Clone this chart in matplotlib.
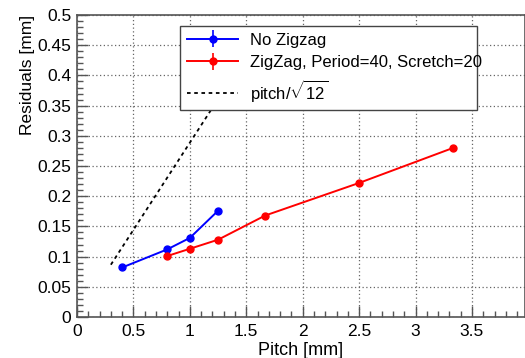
import numpy as np
import matplotlib
matplotlib.use("Agg")
import matplotlib.pyplot as plt
from matplotlib.ticker import MultipleLocator, FuncFormatter

plt.rcParams['font.family'] = ['Liberation Sans', 'DejaVu Sans']
plt.rcParams['mathtext.fontset'] = 'custom'
plt.rcParams['mathtext.rm'] = 'Liberation Sans'

# data
pitch_nozz = [0.4, 0.8, 1.0, 1.25]
res_nozz = [0.082, 0.112, 0.131, 0.176]
err_nozz = [0.002, 0.002, 0.003, 0.003]

pitch_zz = [0.8, 1.0, 1.25, 1.667, 2.5, 3.333]
res_zz = [0.101, 0.113, 0.128, 0.168, 0.222, 0.280]
err_zz = [0.002, 0.002, 0.002, 0.002, 0.002, 0.002]

pitch_ref = [0.3, 1.55]

fig = plt.figure(figsize=(5.25, 3.58), dpi=100)
ax = fig.add_axes([0.1467, 0.1145, 0.8533, 0.8435])

h1 = ax.errorbar(pitch_nozz, res_nozz, yerr=err_nozz, color='#0000ff', marker='o',
                 ms=5, lw=1.4, elinewidth=1.2, capsize=0, label='No Zigzag', zorder=3)
h2 = ax.errorbar(pitch_zz, res_zz, yerr=err_zz, color='#ff0000', marker='o',
                 ms=5, lw=1.4, elinewidth=1.2, capsize=0,
                 label='ZigZag, Period=40, Scretch=20', zorder=3)
ref = np.array(pitch_ref)
h3, = ax.plot(ref, ref / np.sqrt(12), color='black', ls=(0, (2, 2)), lw=1.3,
              label=r'pitch/$\sqrt{12}$', zorder=2)

ax.set_xlim(0, 3.97)
ax.set_ylim(0, 0.5)
ax.xaxis.set_major_locator(MultipleLocator(0.5))
ax.xaxis.set_minor_locator(MultipleLocator(0.1))
ax.yaxis.set_major_locator(MultipleLocator(0.05))
ax.yaxis.set_minor_locator(MultipleLocator(0.01))
ax.xaxis.set_major_formatter(FuncFormatter(lambda v, p: '%g' % round(v, 2)))
ax.yaxis.set_major_formatter(FuncFormatter(lambda v, p: '%g' % round(v, 2)))
ax.tick_params(which='major', direction='in', length=8, width=1, labelsize=12.5,
               color='#555555')
ax.tick_params(axis='x', which='major', pad=5)
ax.tick_params(axis='y', which='major', pad=4)
ax.tick_params(which='minor', direction='in', length=4, width=1, color='#555555')
ax.tick_params(top=False, right=False)
ax.grid(True, which='major', ls=(0, (1, 2)), color='#666666', lw=0.9)
for s in ax.spines.values():
    s.set_color('#555555')
    s.set_linewidth(1.2)

ax.set_xlabel('Pitch [mm]', fontsize=13, labelpad=2)
ax.set_ylabel('Residuals [mm]', fontsize=12.5, loc='top', labelpad=2)

leg = ax.legend([h1, h2, h3], [h1.get_label(), h2.get_label(), h3.get_label()],
                loc='upper left', bbox_to_anchor=(0.23, 0.964, 0.663, 0.0),
                mode='expand', fontsize=12, frameon=True, fancybox=False,
                edgecolor='#444444', framealpha=1, borderpad=0.4,
                labelspacing=0.45, handlelength=3.1, handletextpad=0.7,
                borderaxespad=0)
leg.get_frame().set_linewidth(1.0)

fig.savefig('out.png', dpi=100)
